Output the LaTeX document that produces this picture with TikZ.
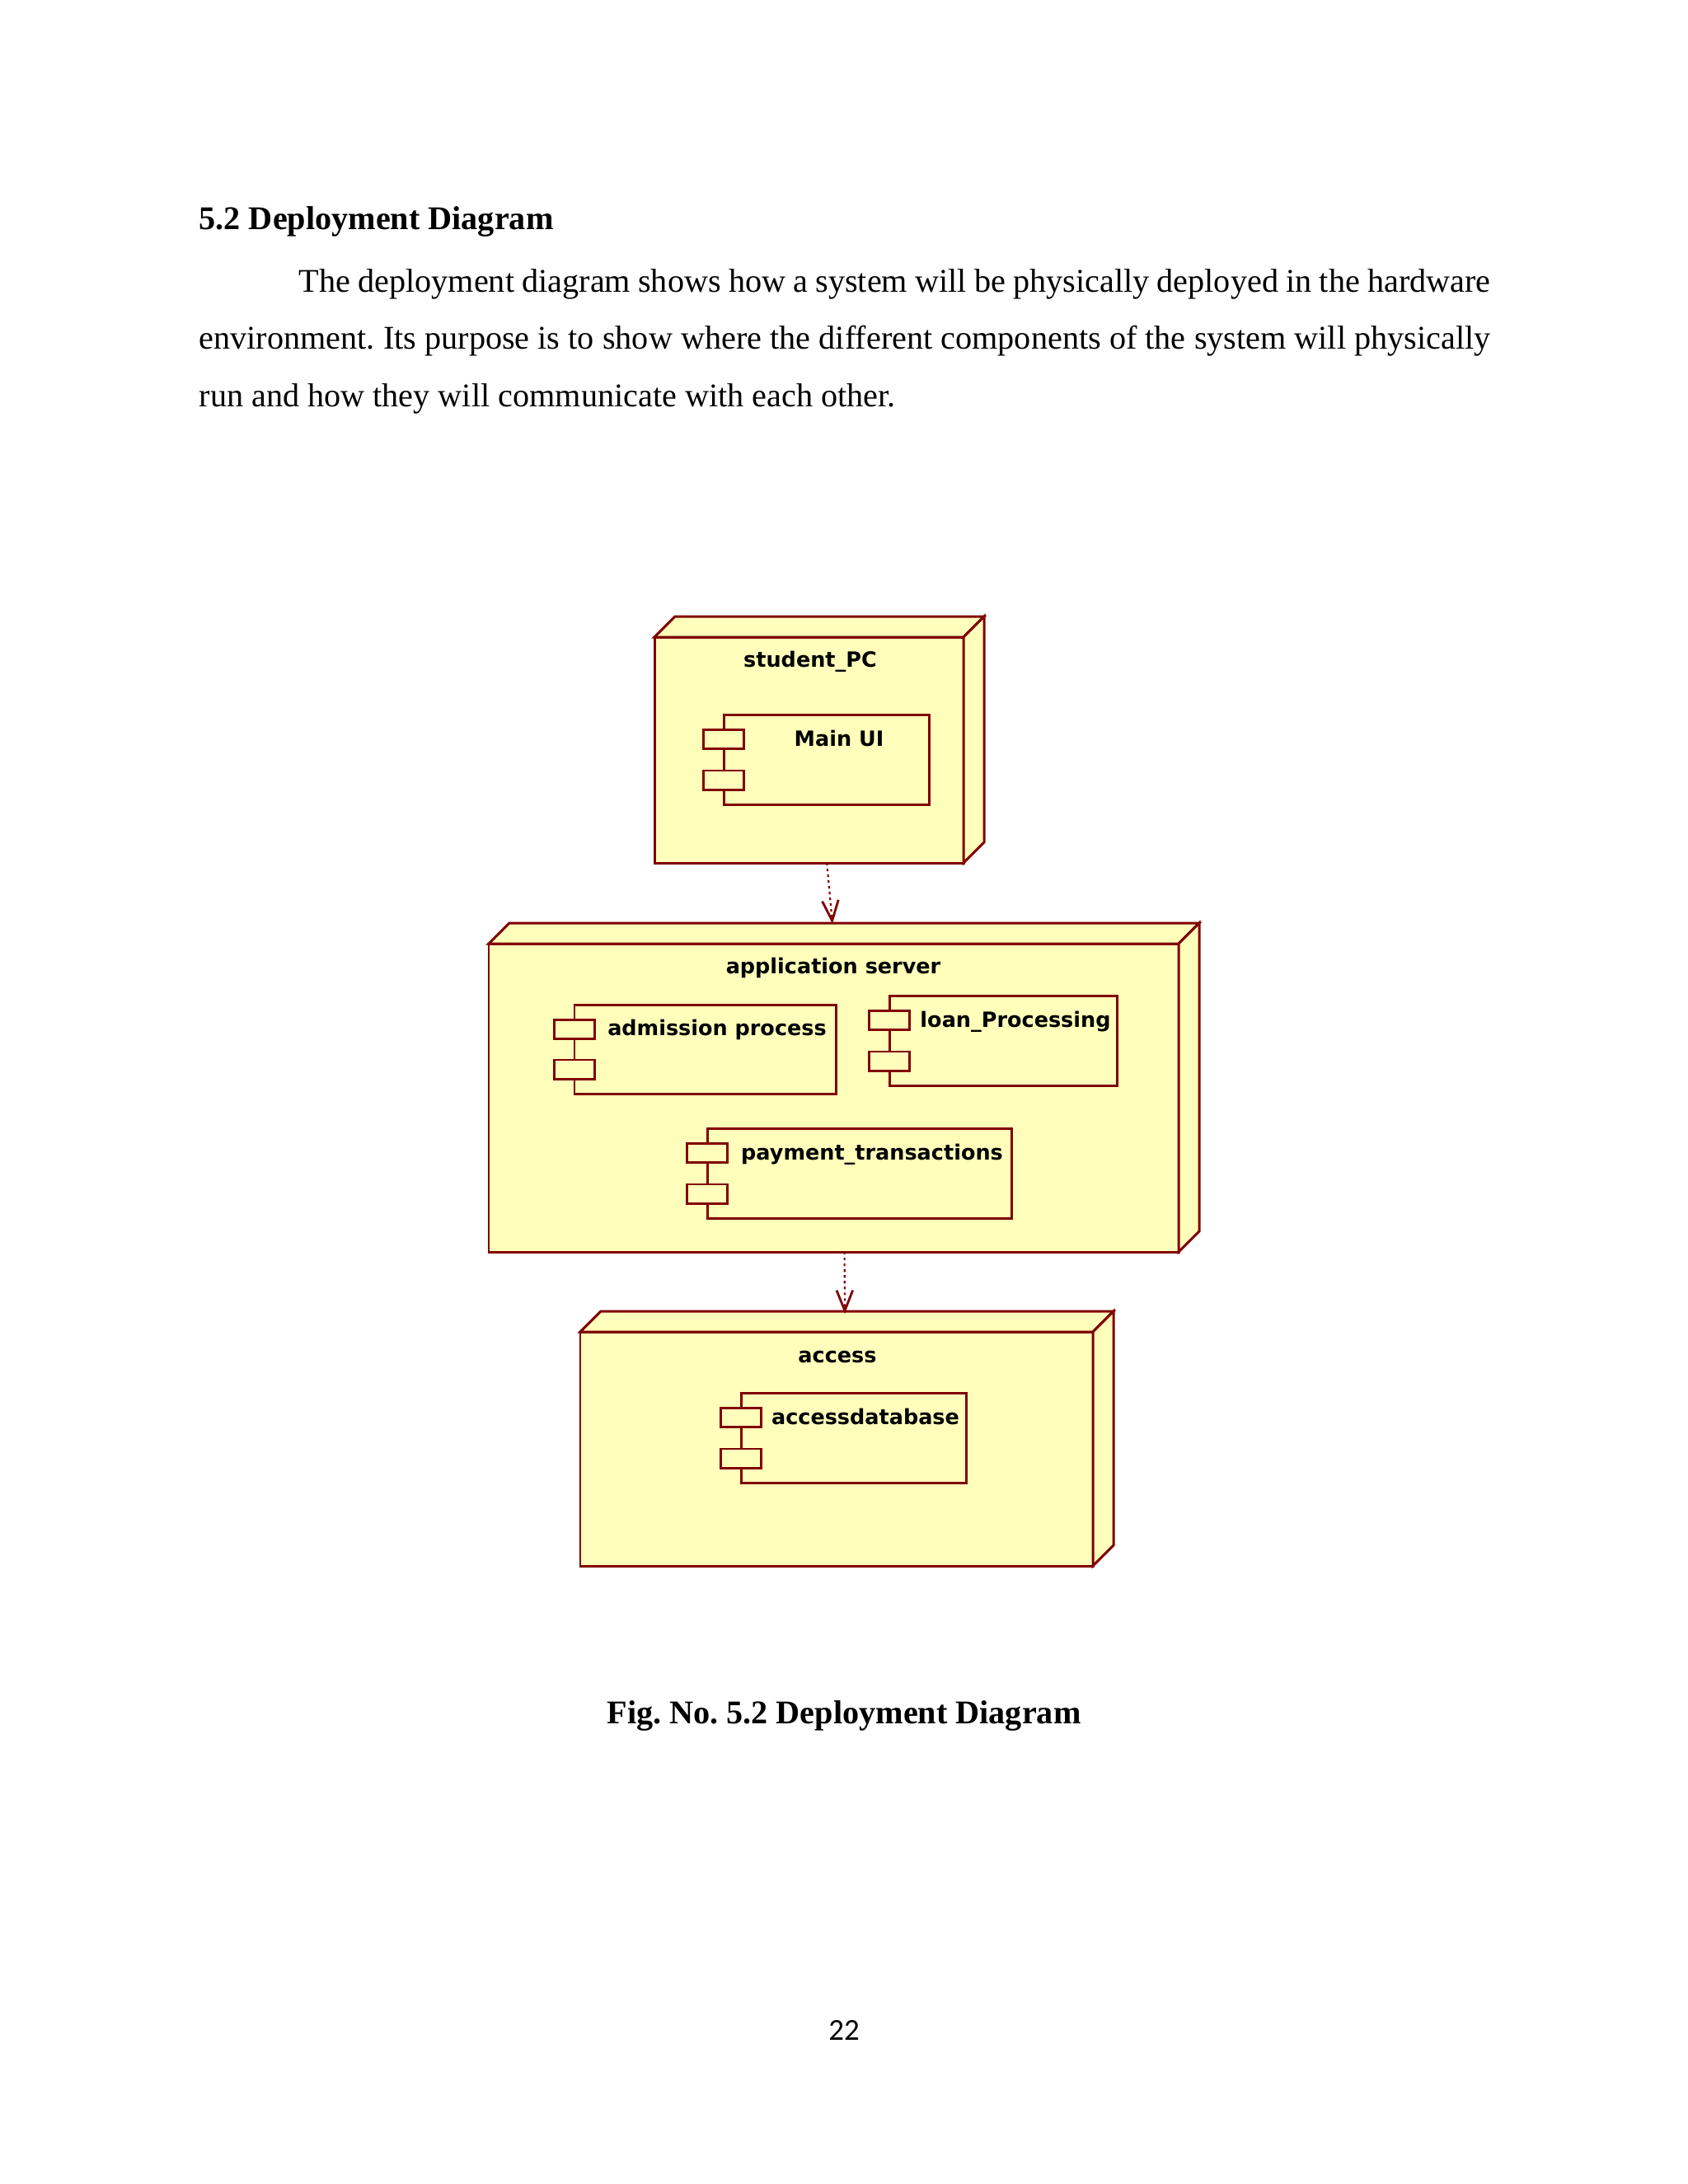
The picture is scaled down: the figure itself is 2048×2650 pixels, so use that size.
\documentclass[tikz,border=0pt]{standalone}
\usepackage{fontspec}
\setmainfont{Liberation Serif}
\newfontfamily\umlfont{DejaVu Sans}
\newfontfamily\pagefont{Carlito}
\usetikzlibrary{arrows.meta}

\definecolor{umlred}{HTML}{800000}
\definecolor{umlfill}{HTML}{FFFFBB}

\tikzset{
	umlline/.style={draw=umlred, line width=0.85pt, fill=umlfill},
	cubefront/.style={umlline, inner sep=0pt, outer sep=0pt},
	compbody/.style={umlline, inner sep=0pt, outer sep=0pt},
	comptab/.style={umlline, inner sep=0pt, outer sep=0pt, minimum width=0.48cm, minimum height=0.23cm},
	umllabel/.style={anchor=base, inner sep=0pt, font=\umlfont\bfseries\fontsize{7.25}{9}\selectfont},
	depends/.style={draw=umlred, line width=0.6pt, dash pattern=on 0.9pt off 1.1pt, -{Straight Barb[length=7pt,width=5.6pt,line width=0.8pt]}},
	pagetext/.style={anchor=base west, inner sep=0pt, font=\frenchspacing\fontsize{11.43}{14}\selectfont}
}

\begin{document}
\begin{tikzpicture}[x=0.01cm, y=-0.01cm]
	\useasboundingbox (0,0) rectangle (2048,2650);

	% page text
	\node [pagetext, font=\frenchspacing\bfseries\fontsize{11.43}{14}\selectfont] (heading) at (241,278) {5.2 Deployment Diagram};
	\node [pagetext] (introa) at (362,354) {\makebox[14.45cm][s]{The deployment diagram shows how a system will be physically deployed in the hardware}};
	\node [pagetext] (introb) at (241,423) {\makebox[15.66cm][s]{environment. Its purpose is to show where the different components of the system will physically}};
	\node [pagetext] (introc) at (241,493) {run and how they will communicate with each other.};

	% cubes
	\foreach \nm/\cx/\cy/\w/\h/\lx/\ly/\txt in {
		studentpc/981.5/910/375/274/983/809/student\_PC,
		appserver/1011.5/1332/837/374/1011/1181/application server,
		access/1015/1758/622/284/1016/1653/access} {
		\node [cubefront, minimum width=\w*0.01cm, minimum height=\h*0.01cm] (\nm) at (\cx,\cy) {};
		\draw [umlline] (\nm.north west) -- ++(25,-25) -- ++(\w,0) -- ++(-25,25) -- cycle;
		\draw [umlline] (\nm.north east) -- ++(25,-25) -- ++(0,\h) -- ++(-25,25) -- cycle;
		\node [umllabel] (\nm label) at (\lx,\ly) {\txt};
	}

	% components
	\foreach \nm/\cx/\cy/\w/\h/\lx/\ly/\txt in {
		mainui/1002.5/921.5/249/109/1018/905/Main UI,
		admission/855.5/1273/317/108/870/1256/admission process,
		loan/1217/1262.5/276/109/1232/1246/loan\_Processing,
		payment/1042.5/1423.5/369/109/1058/1407/payment\_transactions,
		accessdb/1035.5/1744.5/273/109/1050/1728/accessdatabase} {
		\node [compbody, minimum width=\w*0.01cm, minimum height=\h*0.01cm] (\nm) at (\cx,\cy) {};
		\node [comptab] (\nm taba) at ([yshift=-0.295cm]\nm.north west) {};
		\node [comptab] (\nm tabb) at ([yshift=0.295cm]\nm.south west) {};
		\node [umllabel] (\nm label) at (\lx,\ly) {\txt};
	}

	% dependencies
	\coordinate (appservertop) at (1010,1121);
	\coordinate (accesstop) at (1025,1594);
	\draw [depends] (studentpc.-81) -- (appservertop);
	\draw [depends] (appserver.-86.3) -- (accesstop);

	% caption and page number
	\node [pagetext, anchor=base, font=\frenchspacing\bfseries\fontsize{11.43}{14}\selectfont] (caption) at (1024,2091) {Fig. No. 5.2 Deployment Diagram};
	\node [pagetext, anchor=base, font=\pagefont\fontsize{10.5}{12}\selectfont] (pageno) at (1024,2475) {22};
\end{tikzpicture}
\end{document}
